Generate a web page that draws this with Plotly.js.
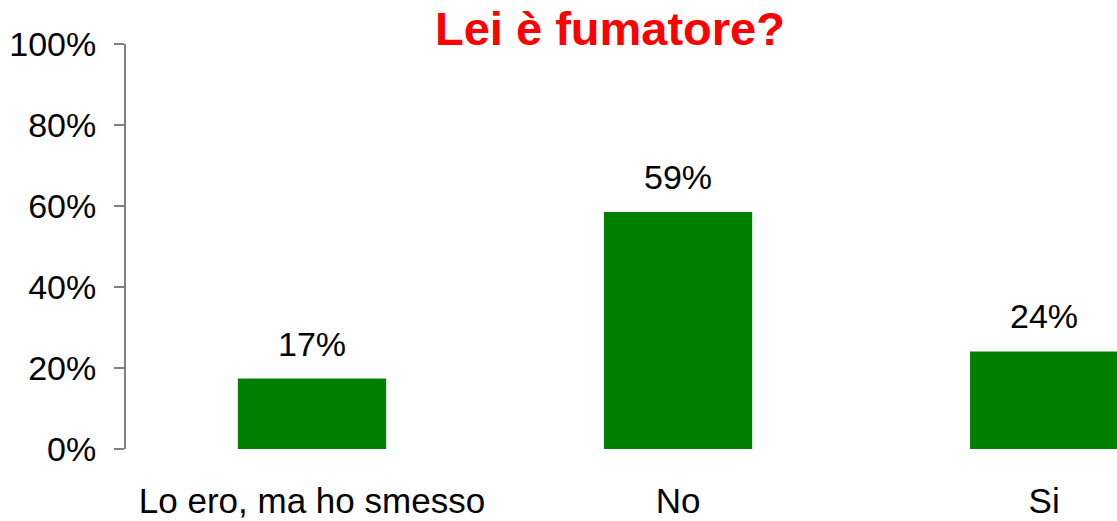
<!DOCTYPE html>
<html>
<head>
<meta charset="utf-8">
<script src="https://cdn.plot.ly/plotly-3.0.1.min.js"></script>
<style>html,body{margin:0;padding:0;background:#fff;}#chart{width:1117px;height:521px;}</style>
</head>
<body>
<div id="chart"></div>
<script>
const categories = ["Lo ero, ma ho smesso", "No", "Si"];
const values = [17.4, 58.5, 24.1];
const valueLabels = ["17%", "59%", "24%"];
const yTickVals = [0, 20, 40, 60, 80, 100];
const yTickText = ["0%", "20%", "40%", "60%", "80%", "100%"];
const titleText = "Lei è fumatore?";

const FONT = "Liberation Sans, Arial, sans-serif";

const trace = {
  type: "bar",
  x: categories,
  y: values,
  marker: { color: "rgb(0,128,0)" },
  width: 0.405,
  hoverinfo: "none"
};

const annotations = categories.map((c, i) => ({
  x: c, y: values[i], xref: "x", yref: "y",
  text: valueLabels[i], showarrow: false,
  yanchor: "bottom", yshift: 14,
  font: { family: FONT, size: 34, color: "#000" }
}));

const layout = {
  width: 1117, height: 521,
  margin: { l: 126, r: 0, t: 44, b: 72, pad: 0 },
  paper_bgcolor: "#fff", plot_bgcolor: "#fff",
  showlegend: false,
  title: {
    text: titleText,
    font: { family: FONT, size: 47, color: "rgb(255,0,0)", weight: "bold" },
    x: 610 / 1117, xanchor: "center", xref: "container",
    y: 1 - 29 / 521, yanchor: "middle", yref: "container"
  },
  xaxis: {
    type: "category",
    range: [-0.508, 2.199],
    showline: false, showgrid: false, zeroline: false,
    ticks: "",
    ticklabelstandoff: 28,
    tickfont: { family: FONT, size: 35, color: "#000" }
  },
  yaxis: {
    range: [0, 100],
    tickvals: yTickVals, ticktext: yTickText,
    showline: true, linecolor: "#808080", linewidth: 2,
    ticks: "outside", ticklen: 10, tickwidth: 2, tickcolor: "#808080",
    showgrid: false, zeroline: false,
    ticklabelstandoff: 11,
    tickfont: { family: FONT, size: 34, color: "#000" }
  },
  annotations: annotations
};

Plotly.newPlot("chart", [trace], layout, { displayModeBar: false, staticPlot: true });
</script>
</body>
</html>
